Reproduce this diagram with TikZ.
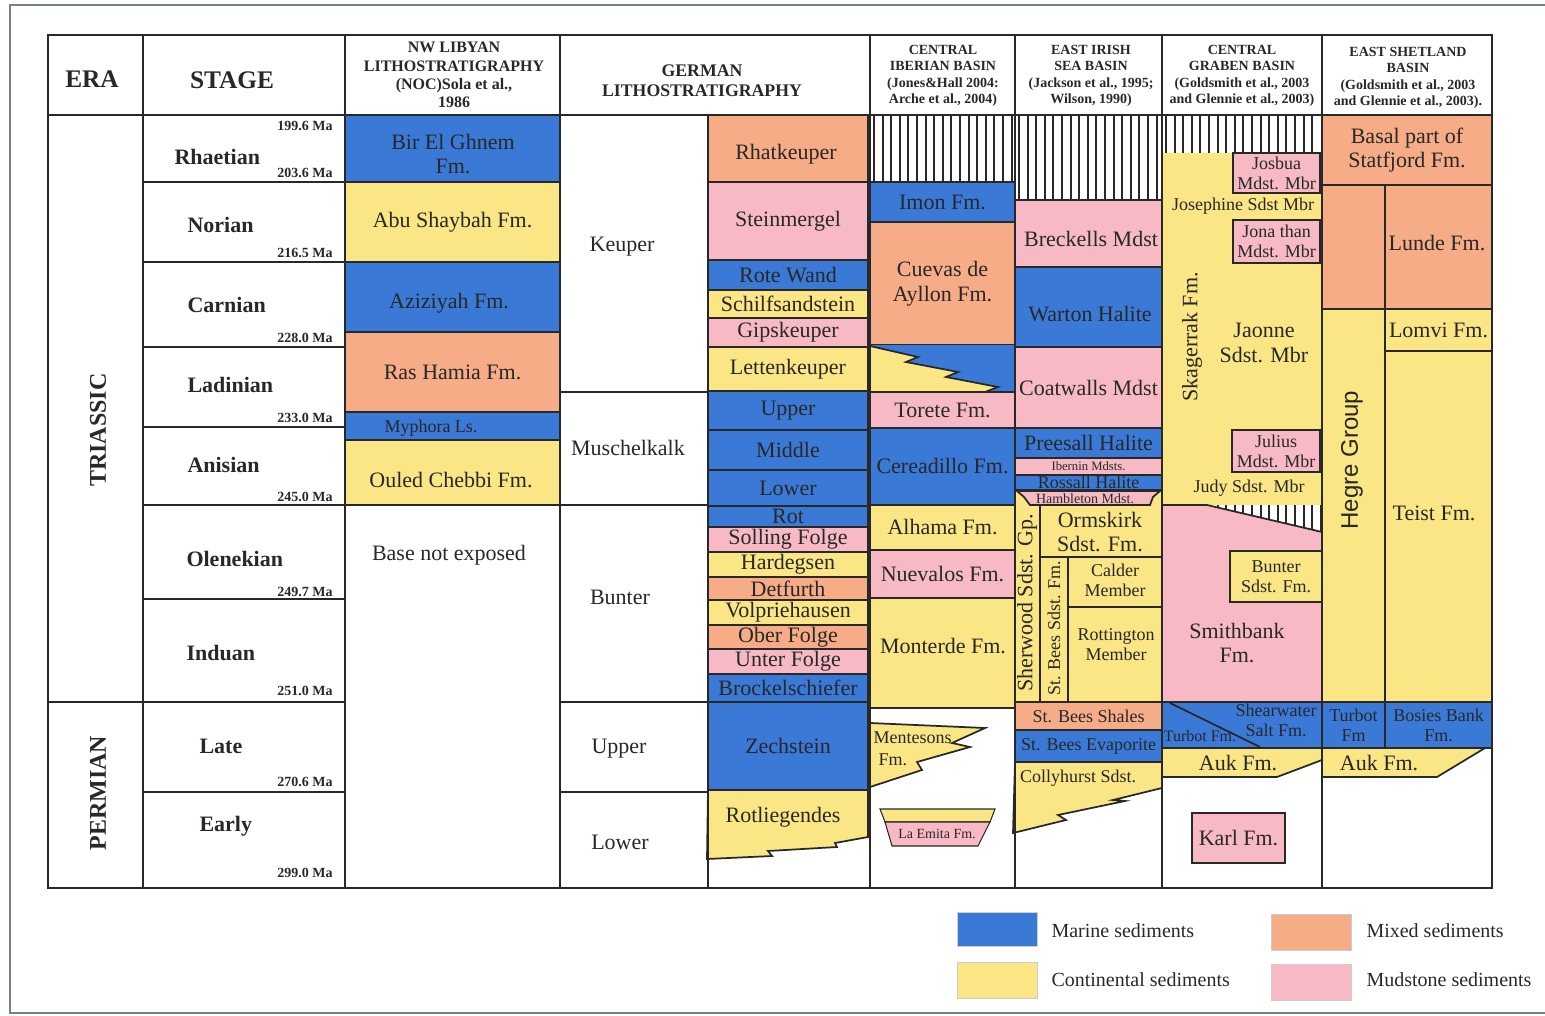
\documentclass[tikz,border=0pt]{standalone}
\usepackage{fontspec}
\setmainfont{Liberation Serif}
\newfontfamily\hegrefont{Liberation Sans}

\definecolor{marine}{RGB}{58,121,214}
\definecolor{conti}{RGB}{250,230,132}
\definecolor{mixed}{RGB}{246,172,134}
\definecolor{mud}{RGB}{247,186,197}
\definecolor{ink}{RGB}{40,40,40}
\definecolor{pageline}{RGB}{120,132,130}
\definecolor{keyline}{RGB}{205,205,205}

\tikzset{every picture/.style={line width=0.75pt}}
\tikzset{
  unitbox/.style={draw=ink, line width=1.3pt},
  gridline/.style={draw=ink, line width=2.2pt},
  hatchline/.style={draw=ink, line width=1.5pt},
  fmtext/.style={text=ink, align=center, inner sep=0.75pt, font=\fontsize{16.5}{18.5}\selectfont},
  fmsmall/.style={font=\fontsize{13.5}{15}\selectfont},
  fmtiny/.style={font=\fontsize{9.5}{10}\selectfont},
  stagetext/.style={text=ink, anchor=west, inner sep=0.75pt, font=\bfseries\fontsize{16.5}{18}\selectfont},
  agetext/.style={text=ink, anchor=east, inner sep=0.75pt, font=\bfseries\fontsize{10.5}{11}\selectfont},
  erabig/.style={text=ink, inner sep=0.75pt, font=\bfseries\fontsize{18}{19}\selectfont},
  headbig/.style={text=ink, inner sep=0.75pt, font=\bfseries\fontsize{19}{20}\selectfont},
  headtext/.style={text=ink, align=center, inner sep=0.75pt, font=\bfseries\fontsize{10.5}{12.4}\selectfont},
  keytext/.style={text=ink, anchor=west, inner sep=0.75pt, font=\fontsize{15}{16}\selectfont},
  keybox/.style={draw=keyline, line width=0.75pt},
}

% coloured layer, name in the middle
\newcommand{\stratbox}[6][]{%
  \draw[unitbox, fill=#3] (#4) rectangle (#5);
  \path (#4) -- (#5) node[midway, fmtext, #1] (#2) {#6};}
% coloured layer, text placed apart
\newcommand{\stratfill}[3]{\draw[unitbox, fill=#1] (#2) rectangle (#3);}

\begin{document}
\begin{tikzpicture}[x=0.75pt,y=0.75pt,yscale=-1,xscale=1]
\useasboundingbox (0,0) rectangle (1545,1016);

%Page frame
\draw[pageline, line width=1.5pt] (1545,5) -- (10,5) -- (10,1013) -- (1545,1013);

%Header texts
\draw (92,79) node[headbig] (hera) {ERA};
\draw (232,80) node[headbig] (hstage) {STAGE};
\draw (454,75) node[headtext, font=\bfseries\fontsize{12}{13.7}\selectfont] (hlib) {NW LIBYAN\\LITHOSTRATIGRAPHY\\(NOC)Sola et al.,\\1986};
\draw (702,81) node[headtext, font=\bfseries\fontsize{13.3}{15}\selectfont] (hger) {GERMAN\\LITHOSTRATIGRAPHY};
\draw (943,76) node[headtext] (hibe) {CENTRAL\\IBERIAN BASIN\\(Jones\&Hall 2004:\\Arche et al., 2004)};
\draw (1091,76) node[headtext] (hiri) {EAST IRISH\\SEA BASIN\\(Jackson et al., 1995;\\Wilson, 1990)};
\draw (1242,76) node[headtext] (hgra) {CENTRAL\\GRABEN BASIN\\(Goldsmith et al., 2003\\and Glennie et al., 2003)};
\draw (1408,78) node[headtext] (hshe) {EAST SHETLAND\\BASIN\\(Goldsmith et al., 2003\\and Glennie et al., 2003).};

%Era and stage column
\foreach \y in {182,262,347,427,505,599,702,792} \draw[unitbox] (143,\y) -- (345,\y);
\draw (98,430) node[rotate=90, erabig] (etri) {TRIASSIC};
\draw (98,793) node[rotate=90, erabig] (eper) {PERMIAN};
\draw (173,157) node[stagetext] (srha) {Rhaetian};
\draw (186,225) node[stagetext] (snor) {Norian};
\draw (186,305) node[stagetext] (scar) {Carnian};
\draw (186,385) node[stagetext] (slad) {Ladinian};
\draw (186,465) node[stagetext] (sani) {Anisian};
\draw (185,559) node[stagetext] (sole) {Olenekian};
\draw (185,653) node[stagetext] (sind) {Induan};
\draw (198,746) node[stagetext] (slat) {Late};
\draw (198,826) node[stagetext] (sear) {Early};
\draw (334,126) node[agetext] (a1) {199.6 Ma};
\draw (334,173) node[agetext] (a2) {203.6 Ma};
\draw (334,253) node[agetext] (a3) {216.5 Ma};
\draw (334,338) node[agetext] (a4) {228.0 Ma};
\draw (334,418) node[agetext] (a5) {233.0 Ma};
\draw (334,497) node[agetext] (a6) {245.0 Ma};
\draw (334,592) node[agetext] (a7) {249.7 Ma};
\draw (334,691) node[agetext] (a8) {251.0 Ma};
\draw (334,782) node[agetext] (a9) {270.6 Ma};
\draw (334,873) node[agetext] (a10) {299.0 Ma};

%NW Libya
\stratfill{marine}{345,115}{560,182}
\draw (453,154) node[fmtext] (bir) {Bir El Ghnem\\Fm.};
\stratbox{abu}{conti}{345,182}{560,262}{Abu Shaybah Fm.}
\stratfill{marine}{345,262}{560,332}
\draw (449,303) node[fmtext] (azi) {Aziziyah Fm.};
\stratbox{ras}{mixed}{345,332}{560,412}{Ras Hamia Fm.}
\stratfill{marine}{345,412}{560,440}
\draw (431,428) node[fmtext, fmsmall] (myp) {Myphora Ls.};
\stratfill{conti}{345,440}{560,505}
\draw (451,480) node[fmtext] (oul) {Ouled Chebbi Fm.};
\draw (449,555) node[fmtext] (bne) {Base not exposed};

%German groups
\stratfill{white}{560,115}{708,392}
\draw (622,247) node[fmtext] (gkeu) {Keuper};
\stratfill{white}{560,392}{708,505}
\draw (628,448) node[fmtext] (gmus) {Muschelkalk};
\stratfill{white}{560,505}{708,702}
\draw (620,597) node[fmtext] (gbun) {Bunter};
\stratfill{white}{560,702}{708,792}
\draw (619,749) node[fmtext] (gupp) {Upper};
\stratfill{white}{560,792}{708,888}
\draw (620,842) node[fmtext] (glow) {Lower};

%German formations
\stratfill{mixed}{708,115}{868,182}
\draw (786,154) node[fmtext] (rhk) {Rhatkeuper};
\stratbox{stm}{mud}{708,182}{868,260}{Steinmergel}
\stratbox{rtw}{marine}{708,260}{868,290}{Rote Wand}
\stratbox{sch}{conti}{708,290}{868,318}{Schilfsandstein}
\stratbox{gip}{mud}{708,318}{868,347}{Gipskeuper}
\stratbox{let}{conti}{708,347}{868,391}{Lettenkeuper}
\stratbox{mup}{marine}{708,391}{868,430}{Upper}
\stratbox{mmi}{marine}{708,430}{868,470}{Middle}
\stratbox{mlo}{marine}{708,470}{868,506}{Lower}
\stratbox{rot}{marine}{708,506}{868,527}{Rot}
\stratbox{sol}{mud}{708,527}{868,552}{Solling Folge}
\stratbox{har}{conti}{708,552}{868,577}{Hardegsen}
\stratbox{det}{mixed}{708,577}{868,600}{Detfurth}
\stratbox{vol}{conti}{708,600}{868,625}{Volpriehausen}
\stratbox{obf}{mixed}{708,625}{868,649}{Ober Folge}
\stratbox{unf}{mud}{708,649}{868,674}{Unter Folge}
\stratbox{bro}{marine}{708,674}{868,702}{Brockelschiefer}
\stratbox{zec}{marine}{708,702}{868,790}{Zechstein}
\draw[unitbox, fill=conti] (708,790) -- (868,790) -- (868,837) -- (835,843) -- (837,847) -- (768,851) -- (772,856) -- (707,859) -- cycle;
\draw (783,817) node[fmtext] (rtl) {Rotliegendes};

%Central Iberian
\foreach \x in {874,882.6,...,1012} \draw[hatchline] (\x,115) -- (\x,182);
\stratbox{imo}{marine}{870,182}{1015,222}{Imon Fm.}
\stratbox{cue}{mixed}{870,222}{1015,345}{Cuevas de\\Ayllon Fm.}
\fill[marine] (870,345) rectangle (1015,392);
\draw[unitbox, fill=conti] (870,346) -- (918,357) -- (906,362) -- (958,372) -- (946,377) -- (998,387) -- (985,392) -- (870,392) -- cycle;
\stratbox{tor}{mud}{870,392}{1015,428}{Torete Fm.}
\stratbox{cer}{marine}{870,428}{1015,505}{Cereadillo Fm.}
\stratbox{alh}{conti}{870,505}{1015,550}{Alhama Fm.}
\stratbox{nue}{mud}{870,550}{1015,598}{Nuevalos Fm.}
\stratfill{conti}{870,598}{1015,708}
\draw (943,646) node[fmtext] (mon) {Monterde Fm.};
\draw[unitbox, fill=conti] (870,723) -- (985,728) -- (952,743) -- (970,747) -- (917,762) -- (922,770) -- (870,787) -- cycle;
\draw (872,738) node[fmtext, fmsmall, anchor=west] (men) {Mentesons};
\draw (877,760) node[fmtext, fmsmall, anchor=west] (menf) {Fm.};
\draw[unitbox, line width=0.8pt, fill=conti] (880,809) -- (995,809) -- (990,822) -- (885,822) -- cycle;
\draw[unitbox, line width=0.8pt, fill=mud] (885,822) -- (990,822) -- (978,846) -- (892,846) -- cycle;
\draw (937,834) node[fmtext, font=\fontsize{10.5}{11}\selectfont] (lae) {La Emita Fm.};

%East Irish Sea
\foreach \x in {1019,1027.6,...,1160} \draw[hatchline] (\x,115) -- (\x,200);
\stratfill{mud}{1015,200}{1162,267}
\draw (1091,239) node[fmtext] (bre) {Breckells Mdst};
\stratfill{marine}{1015,267}{1162,347}
\draw (1090,314) node[fmtext] (war) {Warton Halite};
\stratbox{coa}{mud}{1015,347}{1162,428}{Coatwalls Mdst}
\stratbox{pre}{marine}{1015,428}{1162,458}{Preesall Halite}
\stratbox[fmtiny]{ibe}{mud}{1015,458}{1162,475}{Ibernin Mdsts.}
\stratbox[fmsmall]{ros}{marine}{1015,475}{1162,490}{Rossall Halite}
\stratfill{conti}{1015,490}{1162,702}
\draw[unitbox, fill=mud] (1017,491) -- (1160,491) -- (1153,497) -- (1150,505) -- (1030,505) -- (1024,497) -- cycle;
\draw (1085,499) node[fmtext, font=\fontsize{10.5}{11}\selectfont] (ham) {Hambleton Mdst.};
\draw[unitbox] (1040,505) -- (1040,702);
\draw[unitbox] (1040,557) -- (1162,557);
\draw[unitbox] (1068,557) -- (1068,702);
\draw[unitbox] (1068,607) -- (1162,607);
\draw (1027,603) node[fmtext, rotate=90] (she) {Sherwood Sdst. Gp.};
\draw (1100,532) node[fmtext] (orm) {Ormskirk\\Sdst. Fm.};
\draw (1054,628) node[fmtext, fmsmall, rotate=90] (sbf) {St. Bees Sdst. Fm.};
\draw (1115,580) node[fmtext, fmsmall] (cal) {Calder\\Member};
\draw (1116,645) node[fmtext, fmsmall] (rtt) {Rottington\\Member};
\stratbox[fmsmall]{sbs}{mixed}{1015,702}{1162,730}{St. Bees Shales}
\stratbox[fmsmall]{sbe}{marine}{1015,730}{1162,762}{St. Bees Evaporite}
\draw[unitbox, fill=conti] (1015,762) -- (1162,762) -- (1162,788) -- (1113,800) -- (1125,801) -- (1058,815) -- (1066,820) -- (1013,833) -- cycle;
\draw (1078,778) node[fmtext, fmsmall] (col) {Collyhurst Sdst.};

%Central Graben
\foreach \x in {1166,1174.6,...,1320} \draw[hatchline] (\x,115) -- (\x,153);
\fill[conti] (1162,153) rectangle (1322,505);
\stratbox[fmsmall]{jos}{mud}{1233,153}{1320,193}{Josbua\\Mdst. Mbr}
\draw (1243,206) node[fmtext, fmsmall] (jsp) {Josephine Sdst Mbr};
\stratbox[fmsmall]{jon}{mud}{1233,220}{1320,263}{Jona than\\Mdst. Mbr}
\draw (1264,343) node[fmtext] (jao) {Jaonne\\Sdst. Mbr};
\stratbox[fmsmall]{jul}{mud}{1232,430}{1320,472}{Julius\\Mdst. Mbr}
\draw (1249,488) node[fmtext, fmsmall] (jud) {Judy Sdst. Mbr};
\draw (1192,337) node[fmtext, rotate=90] (ska) {Skagerrak Fm.};
\draw[unitbox, fill=mud] (1162,505) -- (1207,505) -- (1322,532) -- (1322,702) -- (1162,702) -- cycle;
\begin{scope}
\clip (1207,505) -- (1322,505) -- (1322,532) -- cycle;
\foreach \x in {1209,1217.6,...,1322} \draw[hatchline] (\x,505) -- (\x,532);
\end{scope}
\stratbox[fmsmall]{bun}{conti}{1230,551}{1322,602}{Bunter\\Sdst. Fm.}
\draw (1237,643) node[fmtext] (smi) {Smithbank\\Fm.};
\stratfill{marine}{1162,702}{1322,748}
\draw[unitbox] (1170,703) -- (1260,747);
\draw (1276,720) node[fmtext, fmsmall] (shw) {Shearwater\\Salt Fm.};
\draw (1200,736) node[fmtext, font=\fontsize{12}{13}\selectfont] (tbg) {Turbot Fm.};
\draw[unitbox, fill=conti] (1162,748) -- (1322,748) -- (1322,760) -- (1277,777) -- (1162,777) -- cycle;
\draw (1238,763) node[fmtext] (aukg) {Auk Fm.};
\stratbox{kar}{mud}{1192,813}{1285,863}{Karl Fm.}

%East Shetland
\stratbox{bas}{mixed}{1322,115}{1492,185}{Basal part of\\Statfjord Fm.}
\stratfill{mixed}{1322,185}{1385,309}
\stratfill{mixed}{1385,185}{1492,309}
\draw (1437,243) node[fmtext] (lun) {Lunde Fm.};
\stratfill{conti}{1322,309}{1385,702}
\stratbox{lom}{conti}{1385,309}{1492,351}{Lomvi Fm.}
\stratfill{conti}{1385,351}{1492,702}
\draw (1434,513) node[fmtext] (tei) {Teist Fm.};
\draw (1352,460) node[fmtext, rotate=90, font=\hegrefont\fontsize{18}{19}\selectfont] (heg) {Hegre Group};
\stratbox[fmsmall]{tbs}{marine}{1322,702}{1385,748}{Turbot\\Fm}
\stratbox[fmsmall]{bos}{marine}{1385,702}{1492,748}{Bosies Bank\\Fm.}
\draw[unitbox, fill=conti] (1322,748) -- (1485,748) -- (1437,777) -- (1322,777) -- cycle;
\draw (1379,763) node[fmtext] (auks) {Auk Fm.};

%Main grid
\draw[gridline] (48,35) rectangle (1492,888);
\draw[gridline] (48,115) -- (1492,115);
\draw[gridline] (48,702) -- (143,702);
\foreach \x in {143,345,560,870,1015,1162,1322} \draw[gridline] (\x,35) -- (\x,888);
\draw[gridline] (708,115) -- (708,888);

%Legend
\draw[keybox, fill=marine] (957,912) rectangle (1037,946);
\draw (1050,931) node[keytext] (kmar) {Marine sediments};
\draw[keybox, fill=conti] (957,962) rectangle (1037,998);
\draw (1050,980) node[keytext] (kcon) {Continental sediments};
\draw[keybox, fill=mixed] (1271,914) rectangle (1351,950);
\draw (1365,931) node[keytext] (kmix) {Mixed sediments};
\draw[keybox, fill=mud] (1271,964) rectangle (1351,1000);
\draw (1365,980) node[keytext] (kmud) {Mudstone sediments};
\end{tikzpicture}
\end{document}
